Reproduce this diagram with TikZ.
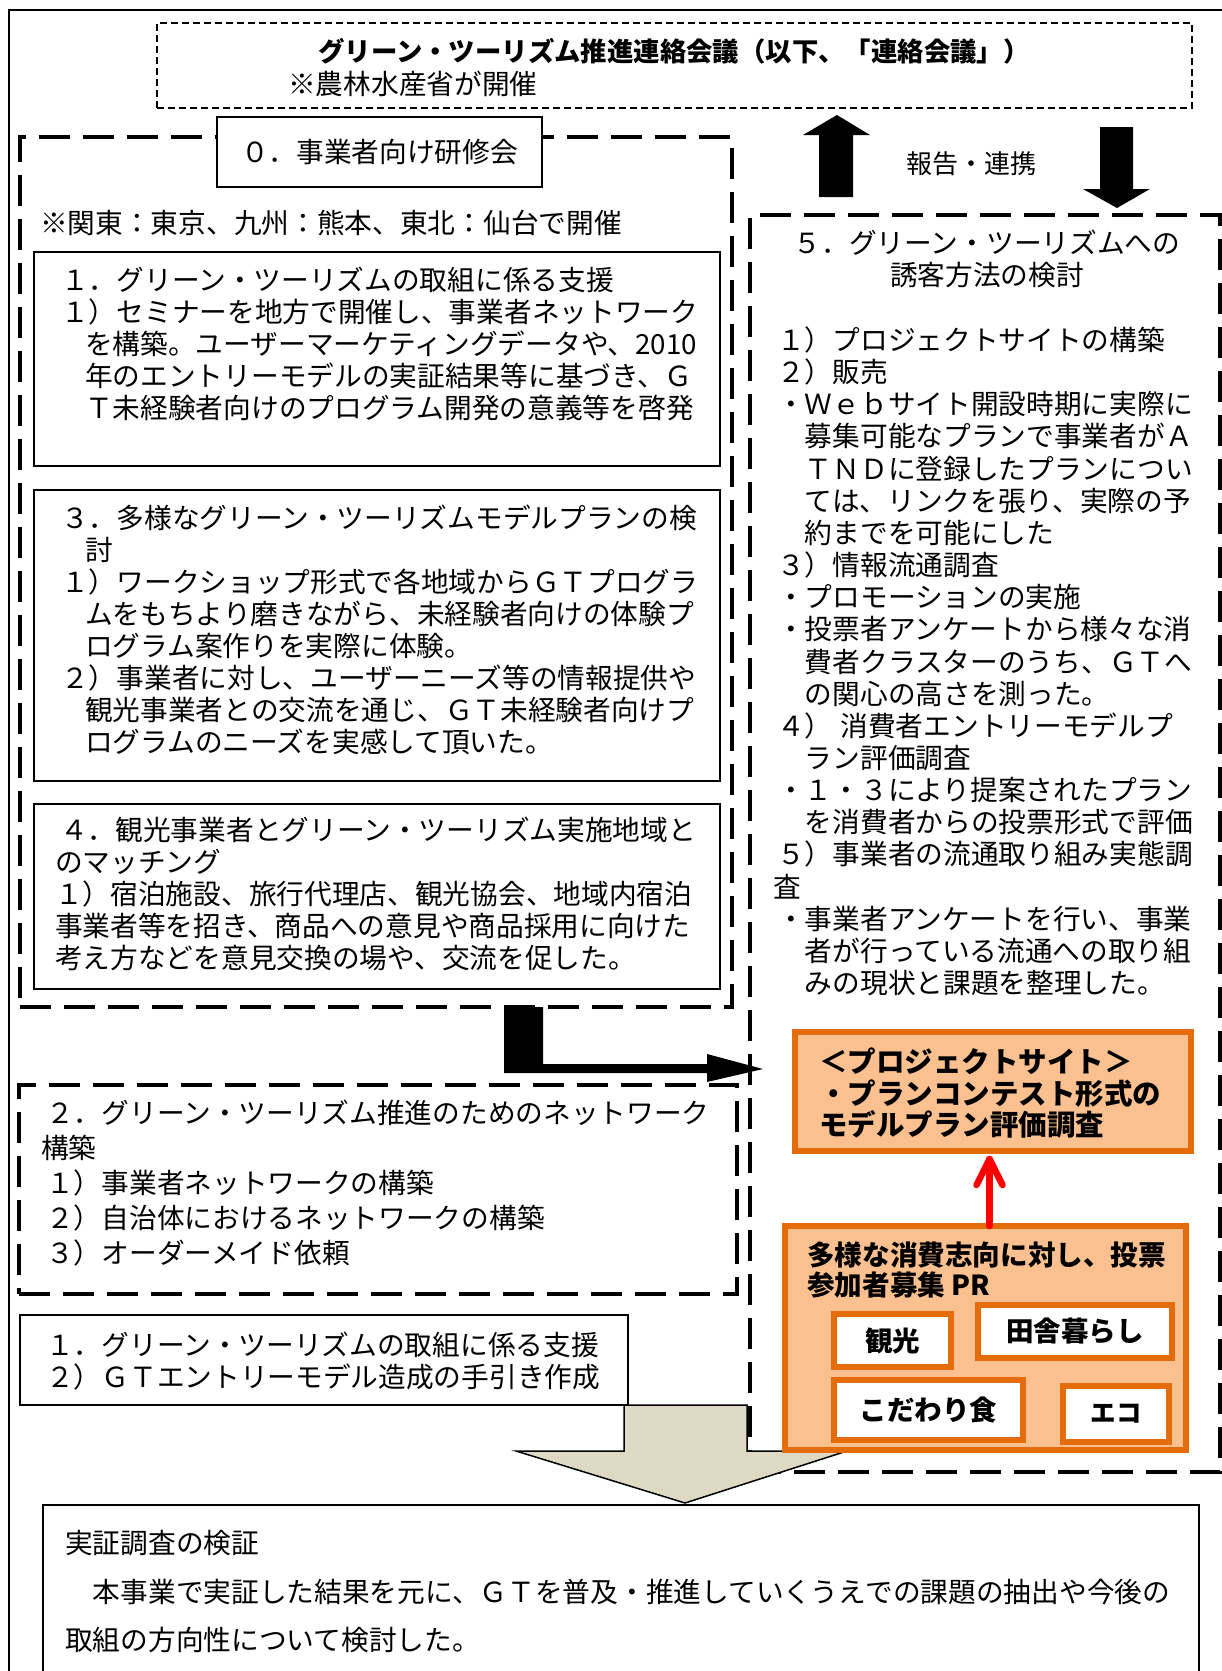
\documentclass[tikz,border=0pt]{standalone}
\usepackage{fontspec}
\setmainfont{Noto Sans CJK JP}
\usetikzlibrary{arrows.meta,calc}
\definecolor{orbd}{HTML}{E46C0A}
\definecolor{orfill}{HTML}{FAC090}
\definecolor{tanfill}{HTML}{DDD9C3}
\newcommand\bodyfs{\fontsize{27.7pt}{32pt}\selectfont}
\newcommand\indt{\hspace*{24pt}}
\begin{document}
\begin{tikzpicture}[x=1pt,y=-1pt,
  basebox/.style={inner sep=0pt, outer sep=0pt, anchor=north west},
  solidbox/.style={basebox, draw, line width=2pt, fill=white},
  dashbox/.style={basebox, draw, line width=4pt, dash pattern=on 31pt off 13pt},
  dotbox/.style={basebox, draw, line width=1.5pt, dash pattern=on 7pt off 4pt},
  orbox/.style={basebox, draw=orbd, line width=6pt, fill=orfill},
  tagbox/.style={basebox, draw=orbd, line width=6pt, fill=white, font=\fontsize{27.5pt}{30pt}\selectfont\bfseries},
  txt/.style={inner sep=0pt, anchor=base west, align=left, font=\bodyfs},
  blockarrow/.style={fill=black},
  grayarrow/.style={fill=tanfill, draw=black, line width=1.5pt},
  redline/.style={draw=red, line width=6.5pt, line cap=round, line join=round},
]
\useasboundingbox (0,0) rectangle (1222,1671);
\clip (0,0) rectangle (1222,1671);
\fill[white] (0,0) rectangle (1222,1671);

% outer frame
\draw[line width=2pt] (9,1700) -- (9,10) -- (1240,10);

% top dotted box
\node[dotbox, minimum width=1035pt, minimum height=85pt] (council) at (157,23) {};
\node[inner sep=0pt, anchor=base, font=\fontsize{26.4pt}{30pt}\selectfont\bfseries] (title) at (674,61) {グリーン・ツーリズム推進連絡会議（以下、「連絡会議」）};
\node[txt] (sub) at (288,94) {※農林水産省が開催};

% report arrows
\fill[blockarrow] (819,197) -- (819,135) -- (803,135) -- (837,115) -- (870,135) -- (853,135) -- (853,197) -- cycle;
\fill[blockarrow] (1100,127) -- (1133,127) -- (1133,189) -- (1150,189) -- (1117,208) -- (1083,189) -- (1100,189) -- cycle;
\node[inner sep=0pt, anchor=base, font=\fontsize{26pt}{30pt}\selectfont] (report) at (971,173) {報告・連携};

% box 0
\node[dashbox, minimum width=712pt, minimum height=870pt] (box0) at (20,137) {};
\node[solidbox, minimum width=325pt, minimum height=70pt, font=\bodyfs] (zero) at (217,117) {０．事業者向け研修会};
\node[txt] (venue) at (40,233.5) {※関東：東京、九州：熊本、東北：仙台で開催};

\node[solidbox, minimum width=686pt, minimum height=214pt] (box1) at (34,252) {};
\node[txt] (t1) at (61,418.5) {１．グリーン・ツーリズムの取組に係る支援\\%
１）セミナーを地方で開催し、事業者ネットワーク\\%
\indt を構築。ユーザーマーケティングデータや、2010\\%
\indt 年のエントリーモデルの実証結果等に基づき、Ｇ\\%
\indt Ｔ未経験者向けのプログラム開発の意義等を啓発};

\node[solidbox, minimum width=686pt, minimum height=291pt] (box3) at (34,490) {};
\node[txt] (t3) at (61,752) {３．多様なグリーン・ツーリズムモデルプランの検\\%
\indt 討\\%
１）ワークショップ形式で各地域からＧＴプログラ\\%
\indt ムをもちより磨きながら、未経験者向けの体験プ\\%
\indt ログラム案作りを実際に体験。\\%
２）事業者に対し、ユーザーニーズ等の情報提供や\\%
\indt 観光事業者との交流を通じ、ＧＴ未経験者向けプ\\%
\indt ログラムのニーズを実感して頂いた。};

\node[solidbox, minimum width=686pt, minimum height=185pt] (box4) at (34,804) {};
\node[txt] (t4) at (55,968) {\hspace*{5pt}４．観光事業者とグリーン・ツーリズム実施地域と\\%
のマッチング\\%
１）宿泊施設、旅行代理店、観光協会、地域内宿泊\\%
事業者等を招き、商品への意見や商品採用に向けた\\%
考え方などを意見交換の場や、交流を促した。};

% box 5
\node[dashbox, minimum width=470pt, minimum height=1257pt] (box5) at (750,215) {};
\node[inner sep=0pt, anchor=base, align=center, font=\bodyfs] (t5h) at (987,285.5) {５．グリーン・ツーリズムへの\\誘客方法の検討};
\node[txt, font=\fontsize{27.7pt}{32.15pt}\selectfont] (t5) at (777,993.5) {１）プロジェクトサイトの構築\\%
２）販売\\%
・Ｗｅｂサイト開設時期に実際に\\%
　募集可能なプランで事業者がＡ\\%
　ＴＮＤに登録したプランについ\\%
　ては、リンクを張り、実際の予\\%
　約までを可能にした\\%
３）情報流通調査\\%
・プロモーションの実施\\%
・投票者アンケートから様々な消\\%
　費者クラスターのうち、ＧＴへ\\%
　の関心の高さを測った。\\%
４）\hspace{8pt}消費者エントリーモデルプ\\%
　ラン評価調査\\%
・１・３により提案されたプラン\\%
　を消費者からの投票形式で評価\\%
５）事業者の流通取り組み実態調\\%
\hspace*{-4pt}査\\%
・事業者アンケートを行い、事業\\%
　者が行っている流通への取り組\\%
　みの現状と課題を整理した。};

% L arrow from box 0 to box 5
\fill[blockarrow] (504,1007) -- (543,1007) -- (543,1064) -- (707,1064) -- (707,1054) -- (763,1069) -- (707,1082) -- (707,1073) -- (504,1073) -- cycle;

% orange box A
\node[orbox, minimum width=396pt, minimum height=119pt] (site) at (795,1032) {};
\node[txt, font=\fontsize{28.5pt}{31.5pt}\selectfont\bfseries] (tsite) at (819,1135.5) {＜プロジェクトサイト＞\\・プランコンテスト形式の\\モデルプラン評価調査};

% box 2
\node[dashbox, minimum width=718pt, minimum height=209pt] (box2) at (19,1085) {};
\node[txt, font=\fontsize{27.7pt}{35pt}\selectfont] (t2) at (46,1263.5) {２．グリーン・ツーリズム推進のためのネットワーク\\%
\hspace*{-5pt}構築\\%
１）事業者ネットワークの構築\\%
２）自治体におけるネットワークの構築\\%
３）オーダーメイド依頼};

% support box
\node[solidbox, minimum width=608pt, minimum height=90pt] (supp) at (20,1315) {};
\node[txt] (tsupp) at (46,1387.5) {１．グリーン・ツーリズムの取組に係る支援\\%
２）ＧＴエントリーモデル造成の手引き作成};

% gray arrow
\draw[grayarrow] (624,1405) -- (747,1405) -- (747,1451) -- (847,1451) -- (685,1503) -- (516,1451) -- (624,1451) -- cycle;

% orange box B
\node[orbox, minimum width=401pt, minimum height=224pt] (vote) at (785,1226) {};
\node[txt, font=\fontsize{27.6pt}{30pt}\selectfont\bfseries] (tvote) at (807,1295.5) {多様な消費志向に対し、投票\\参加者募集 PR};
\node[tagbox, minimum width=117pt, minimum height=53pt] (kanko) at (834,1314) {観光};
\node[tagbox, minimum width=194pt, minimum height=53pt] (inaka) at (978,1305) {田舎暮らし};
\node[tagbox, minimum width=189pt, minimum height=60pt] (kodawari) at (834,1380) {こだわり食};
\node[tagbox, minimum width=106pt, minimum height=56pt, font=\fontsize{25.5pt}{28pt}\selectfont\bfseries] (eco) at (1063,1386) {エコ};

% red arrow
\coordinate (redbase) at ([xshift=4pt]vote.north);
\coordinate (redtip) at ([yshift=-8pt]site.south -| redbase);
\draw[redline] (redbase) -- (redtip);
\draw[redline] ($(redtip)+(-13,26)$) -- (redtip) -- ($(redtip)+(13,26)$);

% bottom box
\node[solidbox, minimum width=1156pt, minimum height=195pt] (verify) at (43,1505) {};
\node[txt, font=\fontsize{27.7pt}{48.5pt}\selectfont] (tverify) at (65,1650.5) {実証調査の検証\\%
　本事業で実証した結果を元に、ＧＴを普及・推進していくうえでの課題の抽出や今後の\\%
取組の方向性について検討した。};
\end{tikzpicture}
\end{document}
